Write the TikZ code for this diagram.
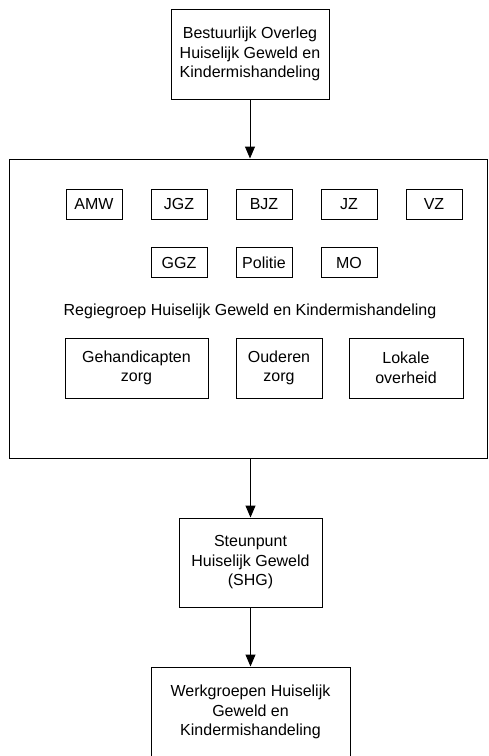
\documentclass[tikz,border=0pt]{standalone}
\usepackage{fontspec}
\setmainfont{Liberation Sans}
\usetikzlibrary{positioning,arrows.meta}

\begin{document}
\begin{tikzpicture}[x=1pt, y=-1pt, node distance=85pt, on grid,
    font=\fontsize{16}{19.5}\selectfont,
    box/.style={draw, line width=1pt, align=center, inner sep=0pt},
    unit/.style={box, minimum width=56pt, minimum height=30pt},
    arr/.style={-{Triangle[width=10pt,length=12pt]}, line width=1pt}]
    \useasboundingbox (0,0) rectangle (488,756);

    \node[box, minimum width=158pt, minimum height=90pt] (bestuur) at (250,54) {Bestuurlijk Overleg\\Huiselijk Geweld en\\Kindermishandeling};
    \node[box, minimum width=478pt, minimum height=299pt] (regie) at (248,308.5) {};

    \node[unit] (amw) at (94,204) {AMW};
    \node[unit] (jgz)[right= of amw] {JGZ};
    \node[unit] (bjz)[right= of jgz] {BJZ};
    \node[unit] (jz)[right= of bjz] {JZ};
    \node[unit] (vz)[right= of jz] {VZ};

    \node[unit] (ggz)[below=58.5pt of jgz] {GGZ};
    \node[unit] (politie)[right= of ggz] {Politie};
    \node[unit] (mo)[right= of politie] {MO};

    \node (regielabel) at (250,311) {Regiegroep Huiselijk Geweld en Kindermishandeling};

    \node[box, minimum width=143pt, minimum height=60pt] (gehand) at (136.5,368) {Gehandicapten\\zorg};
    \node[box, minimum width=86pt, minimum height=60pt] (ouderen) at (279,368) {Ouderen\\zorg};
    \node[box, minimum width=114pt, minimum height=60pt] (lokaal) at (406,368) {Lokale\\overheid};

    \node[box, minimum width=143pt, minimum height=89pt] (steun) at (250.5,562.5) {Steunpunt\\Huiselijk Geweld\\(SHG)};
    \node[box, minimum width=199pt, minimum height=90pt] (werk) at (250.5,712) {Werkgroepen Huiselijk\\Geweld en\\Kindermishandeling};

    \draw[arr] (bestuur) -- (bestuur |- regie.north);
    \draw[arr] (steun |- regie.south) -- (steun);
    \draw[arr] (steun) -- (werk);
\end{tikzpicture}
\end{document}
